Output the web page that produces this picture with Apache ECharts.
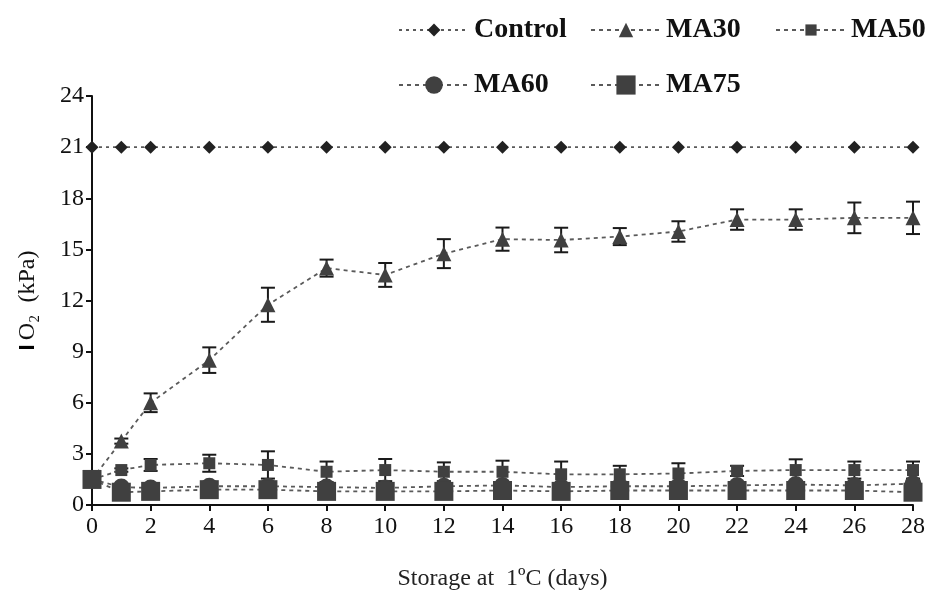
<!DOCTYPE html>
<html>
<head>
<meta charset="utf-8">
<script src="https://cdn.jsdelivr.net/npm/echarts@6/dist/echarts.min.js"></script>
<style>
  html, body { margin: 0; padding: 0; background: #fff; }
  #chart { width: 940px; height: 596px; }
</style>
</head>
<body>
<div id="chart"></div>
<script>
// storage days
var days = [0, 1, 2, 4, 6, 8, 10, 12, 14, 16, 18, 20, 22, 24, 26, 28];

// O2 partial pressure (kPa)
var control = [21, 21, 21, 21, 21, 21, 21, 21, 21, 21, 21, 21, 21, 21, 21, 21];
var ma30 = [1.5, 3.75, 6.0, 8.5, 11.75, 13.9, 13.5, 14.75, 15.6, 15.55, 15.75, 16.05, 16.75, 16.75, 16.85, 16.85];
var ma50 = [1.5, 2.05, 2.35, 2.45, 2.35, 1.95, 2.05, 1.95, 1.95, 1.8, 1.8, 1.85, 2.0, 2.05, 2.05, 2.05];
var ma60 = [1.5, 1.05, 1.0, 1.1, 1.1, 1.05, 1.0, 1.1, 1.15, 1.05, 1.1, 1.1, 1.15, 1.2, 1.15, 1.25];
var ma75 = [1.5, 0.75, 0.8, 0.9, 0.9, 0.8, 0.8, 0.8, 0.85, 0.8, 0.85, 0.85, 0.85, 0.85, 0.85, 0.75];

// error bars (± kPa)
var ma30Err = [0.1, 0.15, 0.55, 0.75, 1.0, 0.5, 0.7, 0.85, 0.68, 0.72, 0.5, 0.6, 0.6, 0.6, 0.9, 0.95];
var ma50Err = [0.2, 0.1, 0.35, 0.5, 0.8, 0.6, 0.65, 0.55, 0.65, 0.75, 0.5, 0.6, 0.3, 0.63, 0.5, 0.5];

var serif = 'Liberation Serif';
var markColor = '#404040';

function pairs(vals) {
  return days.map(function (d, i) { return [d, vals[i]]; });
}
function errData(vals, errs) {
  return days.map(function (d, i) { return [d, vals[i], errs[i]]; });
}

function renderErr(params, api) {
  var x = api.value(0), y = api.value(1), e = api.value(2);
  var hi = api.coord([x, y + e]);
  var lo = api.coord([x, y - e]);
  var w = 7;
  var st = { stroke: '#1a1a1a', lineWidth: 2 };
  return {
    type: 'group',
    children: [
      { type: 'line', shape: { x1: hi[0], y1: hi[1], x2: lo[0], y2: lo[1] }, style: st },
      { type: 'line', shape: { x1: hi[0] - w, y1: hi[1], x2: hi[0] + w, y2: hi[1] }, style: st },
      { type: 'line', shape: { x1: lo[0] - w, y1: lo[1], x2: lo[0] + w, y2: lo[1] }, style: st }
    ]
  };
}

function lineSeries(name, vals, symbol, size, color, dash) {
  return {
    name: name,
    type: 'line',
    data: pairs(vals),
    symbol: symbol,
    symbolSize: size,
    showAllSymbol: true,
    z: 3,
    itemStyle: { color: color, opacity: 1 },
    lineStyle: { color: '#5a5a5a', width: 1.8, type: dash }
  };
}

function legendItem(name, left, top, h) {
  return {
    data: [name],
    left: left,
    top: top,
    itemWidth: 70,
    itemHeight: h,
    selectedMode: false,
    textStyle: { fontFamily: serif, fontWeight: 'bold', fontSize: 28, color: '#111' }
  };
}

var chart = echarts.init(document.getElementById('chart'), null, { renderer: 'canvas' });

var axisText = { fontFamily: serif, fontSize: 24, color: '#111' };

chart.setOption({
  animation: false,
  backgroundColor: '#fff',
  legend: [
    legendItem('Control', 393, 11, 16),
    legendItem('MA30', 585, 11, 18),
    legendItem('MA50', 770, 11, 14),
    legendItem('MA60', 393, 66, 22),
    legendItem('MA75', 585, 66, 24)
  ],
  grid: { left: 92, right: 27, top: 96, bottom: 91 },
  xAxis: {
    type: 'value',
    min: 0,
    max: 28,
    interval: 2,
    name: 'Storage at  1ºC (days)',
    nameLocation: 'middle',
    nameGap: 62,
    nameTextStyle: { fontFamily: serif, fontSize: 24, color: '#222' },
    axisLine: { lineStyle: { color: '#111', width: 2 } },
    axisTick: { length: 6, lineStyle: { color: '#111', width: 2 } },
    axisLabel: Object.assign({ margin: 10 }, axisText),
    splitLine: { show: false }
  },
  yAxis: {
    type: 'value',
    min: 0,
    max: 24,
    interval: 3,
    name: '{bar|I}O₂  (kPa)',
    nameLocation: 'middle',
    nameRotate: 90,
    nameGap: 52,
    nameTextStyle: {
      fontFamily: serif, fontSize: 24, color: '#111',
      rich: { bar: { fontFamily: 'Liberation Sans', fontWeight: 'bold', fontSize: 22, color: '#000', padding: [0, 4, 0, 0] } }
    },
    axisLine: { show: true, lineStyle: { color: '#111', width: 2 } },
    axisTick: { show: true, length: 6, lineStyle: { color: '#111', width: 2 } },
    axisLabel: Object.assign({ margin: 8 }, axisText),
    splitLine: { show: false }
  },
  series: [
    {
      name: 'ma30 err', type: 'custom', renderItem: renderErr, silent: true, z: 2,
      encode: { x: 0, y: 1 }, data: errData(ma30, ma30Err)
    },
    {
      name: 'ma50 err', type: 'custom', renderItem: renderErr, silent: true, z: 2,
      encode: { x: 0, y: 1 }, data: errData(ma50, ma50Err)
    },
    lineSeries('Control', control, 'diamond', 13, '#222', [3, 4]),
    lineSeries('MA30', ma30, 'triangle', 15, markColor, [4, 4]),
    lineSeries('MA50', ma50, 'rect', 12, markColor, [4, 4]),
    lineSeries('MA60', ma60, 'circle', 17, markColor, [4, 4]),
    lineSeries('MA75', ma75, 'rect', 19, markColor, [4, 4])
  ]
});
</script>
</body>
</html>
